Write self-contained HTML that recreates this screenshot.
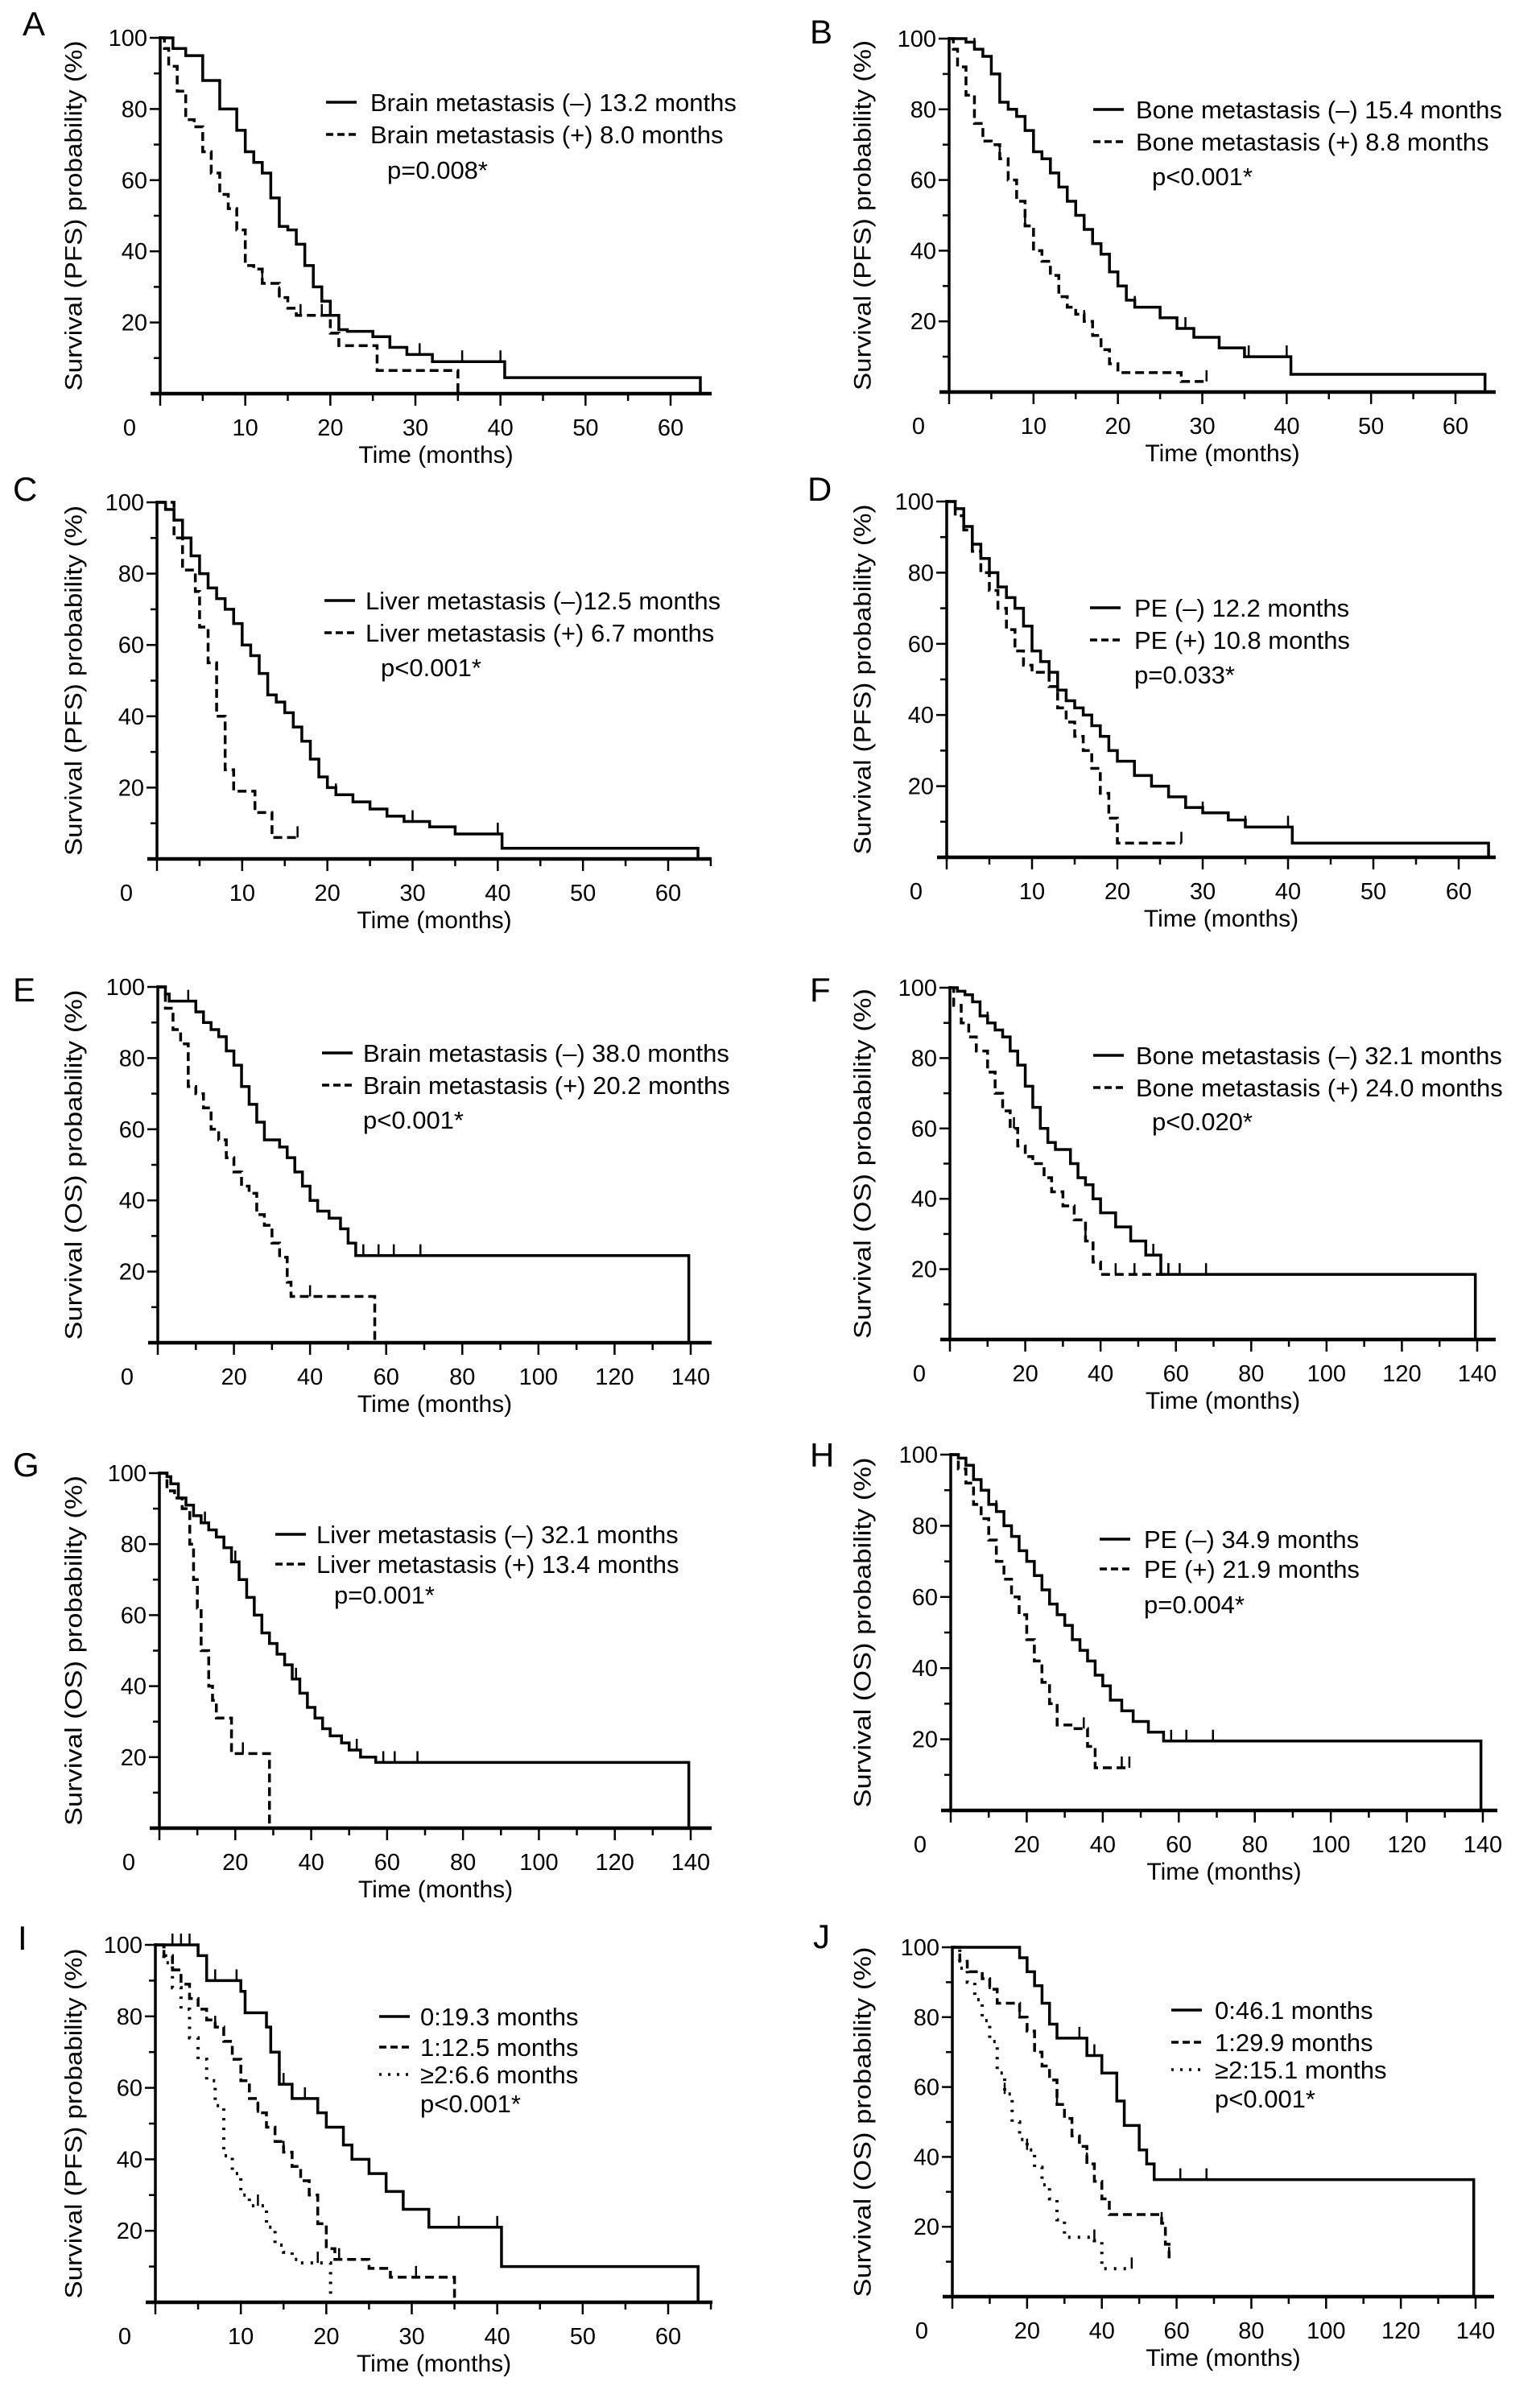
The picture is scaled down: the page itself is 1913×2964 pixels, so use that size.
<!DOCTYPE html>
<html><head><meta charset="utf-8"><style>
html,body{margin:0;padding:0;background:#fff;}
svg{display:block;font-family:"Liberation Sans",sans-serif;}
</style></head><body>
<svg id="fig" width="1913" height="2964" viewBox="0 0 1913 2964" xmlns="http://www.w3.org/2000/svg"></svg>
<script>
// ---------- DATA (months, survival %) ----------
const A_solid_t=[1.5,3,5,7,9,10,11,12,13,14,15,16,17,18,19,20,21,22,25,27,29,32,40.5,63.5];
const A_solid_s=[97,95,88,80,74,68,65,62,55,47,46,42,36,30,26,22,18,17.5,16,13,11,9,4.5,0];
const A_solid_c=[14,16,27,30.5,35.5,40];
const A_dash_t=[0.5,1,2,3,4,5,6,7,8,9,10,11,12,14,15,16,20,21,25.5,35];
const A_dash_s=[97,92,85,77,75,68,62,56,52,46,36,35,31,27,24,22,17,13.5,6.5,0];
const A_dash_c=[12,14,16.5,19];

const B_solid_t=[2,3,4,5,6,7,8,9,10,11,12,13,14,15,16,17,18,19,20,21,22,25,27,29,32,35,40.5,63.5];
const B_solid_s=[99,97,95,90,82,80,78,74,68,66,62,58,54,50,46,42,39,34,30,26,24,21,18,15.5,12.5,10,5,0];
const B_solid_c=[3,5,12,14,17,22,28,35.5,40];
const B_dash_t=[0.5,1,2,3,4,5,6,7,8,9,10,11,12,13,14,15,16,17,18,19,20,27.5,30.5];
const B_dash_s=[97,92,84,76,71,70,66,60,54,47,40,37,33,27,24,22,20,16,12,8,5.5,3,3];
const B_dash_c=[6,9,16,30.5];

const C_solid_t=[1,2,3,4,5,6,7,8,9,10,11,12,13,14,15,16,17,18,19,20,21,23,25,27,29,32,35,40.5,63.5];
const C_solid_s=[98,95,90,85,80,76,73,70,66,60,57,52,46,44,41,37,33,28,23,20,18,16,14,12,10.5,9,7,3,0];
const C_solid_c=[12,17,21,30,40];
const C_dash_t=[2,3,4.5,5,6,7,8,9,11.5,13.5,16.5];
const C_dash_s=[90,81,75,65,55,40,25,19,13,6,6];
const C_dash_c=[16.5];

const D_solid_t=[1,2,3,4,5,6,7,8,9,10,11,12,13,14,15,16,17,18,19,20,22,24,26,28,30,33,35,40.5,63.5];
const D_solid_s=[98,93,88,84,80,76,73,70,65,58,55,52,47,44,42,40,37,34,30,27,23,20,17,14,12.5,10.5,8.5,4,0];
const D_solid_c=[5,9,13,19,30,35,40];
const D_dash_t=[1,2,3,4,5,6,7,8,9,10,12,13,14,15,16,17,18,19,20,27.5];
const D_dash_s=[96,92,86,80,75,70,64,58,54,52,48,42,38,34,30,25,18,11,4,4];
const D_dash_c=[27.5];

const E_solid_t=[2,3,10,12,14,16,18,20,22,24,26,28,32,34,36,38,40,42,45,48,50,52,139.5];
const E_solid_s=[98,96,93,90,88,86,82,78,72,67,62,57,55,52,48,44,40,37,35,32,28,24.5,0];
const E_solid_c=[8,34,54,58,62,69];
const E_dash_t=[2,4,6,8,10,12,14,16,18,20,22,24,26,28,30,32,34,35,57];
const E_dash_s=[94,88,84,72,70,66,60,57,52,48,44,42,36,33,28,24,17,13,0];
const E_dash_c=[40];

const F_solid_t=[2,4,6,8,10,12,14,16,18,20,22,24,26,28,32,34,36,38,40,44,48,52,56,139.5];
const F_solid_s=[99,98,96,92,90,88,86,82,78,72,66,60,56,54,50,46,44,40,36,32,28,24,18.5,0];
const F_solid_c=[10,16,38,54,58,61,68];
const F_dash_t=[1,3,5,7,10,12,14,16,18,20,22,25,27,30,33,36,38,40,58];
const F_dash_s=[95,90,86,82,76,70,65,60,55,52,50,46,42,38,34,28,22,18.5,18.5];
const F_dash_c=[17,36,44,49,58];

const G_solid_t=[2,3,5,7,9,11,13,15,17,19,21,23,25,27,29,31,33,35,37,39,41,43,45,48,50,53,57,139.5];
const G_solid_s=[99,97,93,91,88,86,84,82,79,75,70,65,60,55,52,49,46,42,38,34,31,28,26,24,22,20,18.5,0];
const G_solid_c=[12,20,36,52,59,62,68];
const G_dash_t=[2,4,6,8,9,10,11,13,14,15,19,29];
const G_dash_s=[95,93,90,80,70,62,50,40,36,31,21,0];
const G_dash_c=[22];

const H_solid_t=[2,4,6,8,10,12,14,16,18,20,22,24,26,28,30,32,34,36,38,40,42,45,48,52,56,139.5];
const H_solid_s=[99,97,93,90,86,84,80,77,73,70,66,62,58,55,52,48,45,42,38,35,31,28,25,22,19.5,0];
const H_solid_c=[12,18,38,58,62,69];
const H_dash_t=[2,4,6,8,10,12,14,16,18,20,22,24,26,28,32,36,38,47];
const H_dash_s=[96,92,86,82,76,70,65,60,55,48,42,36,30,24,23,18,12,12];
const H_dash_c=[35,45,47];

const I_solid_t=[5,6,10,10.5,13,13.5,14.5,16,19,20,22,23,25,27,29,32,40.5,63.5];
const I_solid_s=[97,90,87,81,77,70,61,57,53,49,44,40,36,31,26,21,10,0];
const I_solid_c=[2,3,4,5,7,9.5,13,15,17.5,27,35.5,40];
const I_dash_t=[1,2,3,4,5,6,7,8,9,10,11,12,13,14,15,16,17,18,19,20,21,25,27.5,35];
const I_dash_s=[97,93,89,85,82,79,77,73,68,62,57,53,49,45,42,38,34,30,22,15,12,9.5,7,0];
const I_dash_c=[7,12,15,21.5,30.5];
const I_dot_t=[1,2,3,4,5,6,7,8,9,10,11,13,14,15,16,17,20.5];
const I_dot_s=[95,88,82,74,68,62,55,41,36,30,27,21,16,14,12,11,0];
const I_dot_c=[12,19];

const J_solid_t=[18,20,22,24,26,28,30,36,40,44,46,50,52,54,139.5];
const J_solid_s=[97,93,89,84,78,74,74,69,64,56,49,42,38,33.5,0];
const J_solid_c=[18,20,34,38,61,68];
const J_dash_t=[2,4,8,10,12,16,18,20,22,24,26,28,30,32,34,36,38,40,42,56,57,58];
const J_dash_s=[96,93,91,88,84,84,80,76,70,66,62,55,51,46,43,38,33,28,23.5,21,15,11];
const J_dash_c=[10,18,28,36,56,58];
const J_dot_t=[2,4,6,8,10,12,14,16,18,20,22,24,26,28,30,38,40,48];
const J_dot_s=[94,90,85,79,73,64,58,50,45,42,37,32,28,22,17,16,8,8];
const J_dot_c=[14,20,38,48];

const pfsTicks=[0,10,20,30,40,50,60];
const osTicks=[0,20,40,60,80,100,120,140];
const yTicks=[20,40,60,80,100];

// ---------- LAYOUT ----------
const panels=[
 {id:'A',x0:199,xEnd:884,y100:47,y0:489,max:60,per:10,kind:'PFS',lx:28,ly:44,ylx:92,
  leg:{lx:405,tx:460,rows:[138,178],p:[481,222]},labels:['Brain metastasis (–) 13.2 months','Brain metastasis (+) 8.0 months'],pv:'p=0.008*',
  series:[[A_solid_t,A_solid_s,A_solid_c,'solid'],[A_dash_t,A_dash_s,A_dash_c,'dash']]},
 {id:'B',x0:1179,xEnd:1858,y100:48,y0:487,max:60,per:10,kind:'PFS',lx:1006,ly:54,ylx:1072,
  leg:{lx:1358,tx:1411,rows:[147,187],p:[1431,230]},labels:['Bone metastasis (–) 15.4 months','Bone metastasis (+) 8.8 months'],pv:'p<0.001*',
  series:[[B_solid_t,B_solid_s,B_solid_c,'solid'],[B_dash_t,B_dash_s,B_dash_c,'dash']]},
 {id:'C',x0:195,xEnd:884,y100:624,y0:1067,max:60,per:10,kind:'PFS',lx:16,ly:622,ylx:92,
  leg:{lx:403,tx:454,rows:[757,797],p:[473,840]},labels:['Liver metastasis (–)12.5 months','Liver metastasis (+) 6.7 months'],pv:'p<0.001*',
  series:[[C_solid_t,C_solid_s,C_solid_c,'solid'],[C_dash_t,C_dash_s,C_dash_c,'dash']]},
 {id:'D',x0:1176,xEnd:1858,y100:623,y0:1065,max:60,per:10,kind:'PFS',lx:1003,ly:622,ylx:1072,
  leg:{lx:1354,tx:1409,rows:[766,806],p:[1409,849]},labels:['PE (–) 12.2 months','PE (+) 10.8 months'],pv:'p=0.033*',
  series:[[D_solid_t,D_solid_s,D_solid_c,'solid'],[D_dash_t,D_dash_s,D_dash_c,'dash']]},
 {id:'E',x0:196,xEnd:884,y100:1226,y0:1668,max:140,per:20,kind:'OS',lx:16,ly:1244,ylx:92,
  leg:{lx:400,tx:451,rows:[1319,1359],p:[451,1402]},labels:['Brain metastasis (–) 38.0 months','Brain metastasis (+) 20.2 months'],pv:'p<0.001*',
  series:[[E_solid_t,E_solid_s,E_solid_c,'solid'],[E_dash_t,E_dash_s,E_dash_c,'dash']]},
 {id:'F',x0:1180,xEnd:1858,y100:1227,y0:1664,max:140,per:20,kind:'OS',lx:1006,ly:1244,ylx:1072,
  leg:{lx:1358,tx:1411,rows:[1322,1362],p:[1431,1404]},labels:['Bone metastasis (–) 32.1 months','Bone metastasis (+) 24.0 months'],pv:'p<0.020*',
  series:[[F_solid_t,F_solid_s,F_solid_c,'solid'],[F_dash_t,F_dash_s,F_dash_c,'dash']]},
 {id:'G',x0:198,xEnd:884,y100:1830,y0:2271,max:140,per:20,kind:'OS',lx:16,ly:1834,ylx:92,
  leg:{lx:342,tx:393,rows:[1917,1954],p:[415,1992]},labels:['Liver metastasis (–) 32.1 months','Liver metastasis (+) 13.4 months'],pv:'p=0.001*',
  series:[[G_solid_t,G_solid_s,G_solid_c,'solid'],[G_dash_t,G_dash_s,G_dash_c,'dash']]},
 {id:'H',x0:1181,xEnd:1860,y100:1807,y0:2249,max:140,per:20,kind:'OS',lx:1006,ly:1822,ylx:1072,
  leg:{lx:1366,tx:1421,rows:[1923,1960],p:[1421,2004]},labels:['PE (–) 34.9 months','PE (+) 21.9 months'],pv:'p=0.004*',
  series:[[H_solid_t,H_solid_s,H_solid_c,'solid'],[H_dash_t,H_dash_s,H_dash_c,'dash']]},
 {id:'I',x0:193,xEnd:885,y100:2416,y0:2860,max:60,per:10,kind:'PFS',lx:22,ly:2422,ylx:92,
  leg:{lx:471,tx:522,rows:[2516,2554,2588],p:[522,2624]},labels:['0:19.3 months','1:12.5 months','≥2:6.6 months'],pv:'p<0.001*',
  series:[[I_solid_t,I_solid_s,I_solid_c,'solid'],[I_dash_t,I_dash_s,I_dash_c,'dash'],[I_dot_t,I_dot_s,I_dot_c,'dot']]},
 {id:'J',x0:1183,xEnd:1856,y100:2419,y0:2853,max:140,per:20,kind:'OS',lx:1010,ly:2420,ylx:1072,
  leg:{lx:1455,tx:1509,rows:[2508,2548,2582],p:[1509,2618]},labels:['0:46.1 months','1:29.9 months','≥2:15.1 months'],pv:'p<0.001*',
  series:[[J_solid_t,J_solid_s,J_solid_c,'solid'],[J_dash_t,J_dash_s,J_dash_c,'dash'],[J_dot_t,J_dot_s,J_dot_c,'dot']]}
];
const xMaxPx={60:{A:833,B:1808,C:830,D:1812,I:830},140:{E:858,F:1835,G:858,H:1842,J:1833}};
const NS='http://www.w3.org/2000/svg';
const fig=document.getElementById('fig');
function mk(tag,attrs,parent){const e=document.createElementNS(NS,tag);for(const k in attrs)e.setAttribute(k,attrs[k]);(parent||fig).appendChild(e);return e;}
const dashes={solid:null,dash:'11,6',dot:'3,9'};

panels.forEach(p=>{
  const g=mk('g',{});
  
  
  const xm=xMaxPx[p.max][p.id];
  const X=t=>p.x0+(xm-p.x0)*t/p.max;
  const Y=s=>p.y0-(p.y0-p.y100)*s/100;
  const L=mk('text',{x:p.lx,y:p.ly,'font-size':42},g);L.textContent=p.id;
  
  
  const ya=mk('line',{x1:p.x0,y1:p.y100-2,x2:p.x0,y2:p.y0,stroke:'#000','stroke-width':3.5},g);
  
  
  for(let v=10;v<=100;v+=10){
    const major=v%20===0;
    mk('line',{x1:p.x0-(major?13:8),y1:Y(v),x2:p.x0,y2:Y(v),stroke:'#000','stroke-width':2.5},g);
  }
  yTicks.forEach(v=>{
    const t=mk('text',{x:p.x0-16,y:Y(v)+10,'font-size':29,'text-anchor':'end'},g);t.textContent=v;
    
    
  });
  const xa=mk('line',{x1:p.x0-12,y1:p.y0,x2:p.xEnd,y2:p.y0,stroke:'#000','stroke-width':4.5},g);
  
  
  const ticks=p.max===60?pfsTicks:osTicks;
  for(let v=0;v<=p.max+p.per/2;v+=p.per/2){
    if(X(v)>p.xEnd)break;
    const major=(v%p.per)===0;
    mk('line',{x1:X(v),y1:p.y0,x2:X(v),y2:p.y0+(major?15:9),stroke:'#000','stroke-width':2.5},g);
  }
  ticks.forEach(v=>{
    const t=mk('text',{x:v===0?X(0)-38:X(v),y:p.y0+52,'font-size':29,'text-anchor':'middle'},g);t.textContent=v;
    
    
  });
  const xt=mk('text',{x:(p.x0+p.xEnd)/2,y:p.y0+86,'font-size':30,'text-anchor':'middle'},g);xt.textContent='Time (months)';
  
  
  const cy=(p.y0+p.y100)/2;
  const yt=mk('text',{x:p.ylx,y:cy,'font-size':30,'text-anchor':'middle',transform:`rotate(-90 ${p.ylx} ${cy})`,'dominant-baseline':'central',textLength:435,lengthAdjust:'spacingAndGlyphs'},g);
  yt.textContent='Survival ('+p.kind+') probability (%)';
  
  
  p.series.forEach((s,i)=>{
    const [ts,ss,cs,style]=s;
    let d=`M${X(0)},${Y(100)}`;
    ts.forEach((t,k)=>{d+=` H${X(t)} V${Y(ss[k])}`;});
    const attrs={d:d,fill:'none',stroke:'#000','stroke-width':style==='dot'?4:3.5};
    if(dashes[style])attrs['stroke-dasharray']=dashes[style];
    const path=mk('path',attrs,g);
    
    
    cs.forEach(c=>{
      let v=100;for(let k=0;k<ts.length;k++){if(ts[k]<=c)v=ss[k];}
      const m=mk('line',{x1:X(c),y1:Y(v),x2:X(c),y2:Y(v)-14,stroke:'#000','stroke-width':2.5},g);
      
      
    });
    const ry=p.leg.rows[i];
    const la={x1:p.leg.lx,y1:ry-11,x2:p.leg.lx+38,y2:ry-11,stroke:'#000','stroke-width':3.5};
    if(dashes[style])la['stroke-dasharray']=style==='dash'?'9,5':'3,8';
    const ll=mk('line',la,g);
    
    
    const lt=mk('text',{x:p.leg.tx,y:ry,'font-size':31},g);lt.textContent=p.labels[i];
    
    
  });
  const pv=mk('text',{x:p.leg.p[0],y:p.leg.p[1],'font-size':31},g);pv.textContent=p.pv;
  
  
});
</script>
</body></html>
